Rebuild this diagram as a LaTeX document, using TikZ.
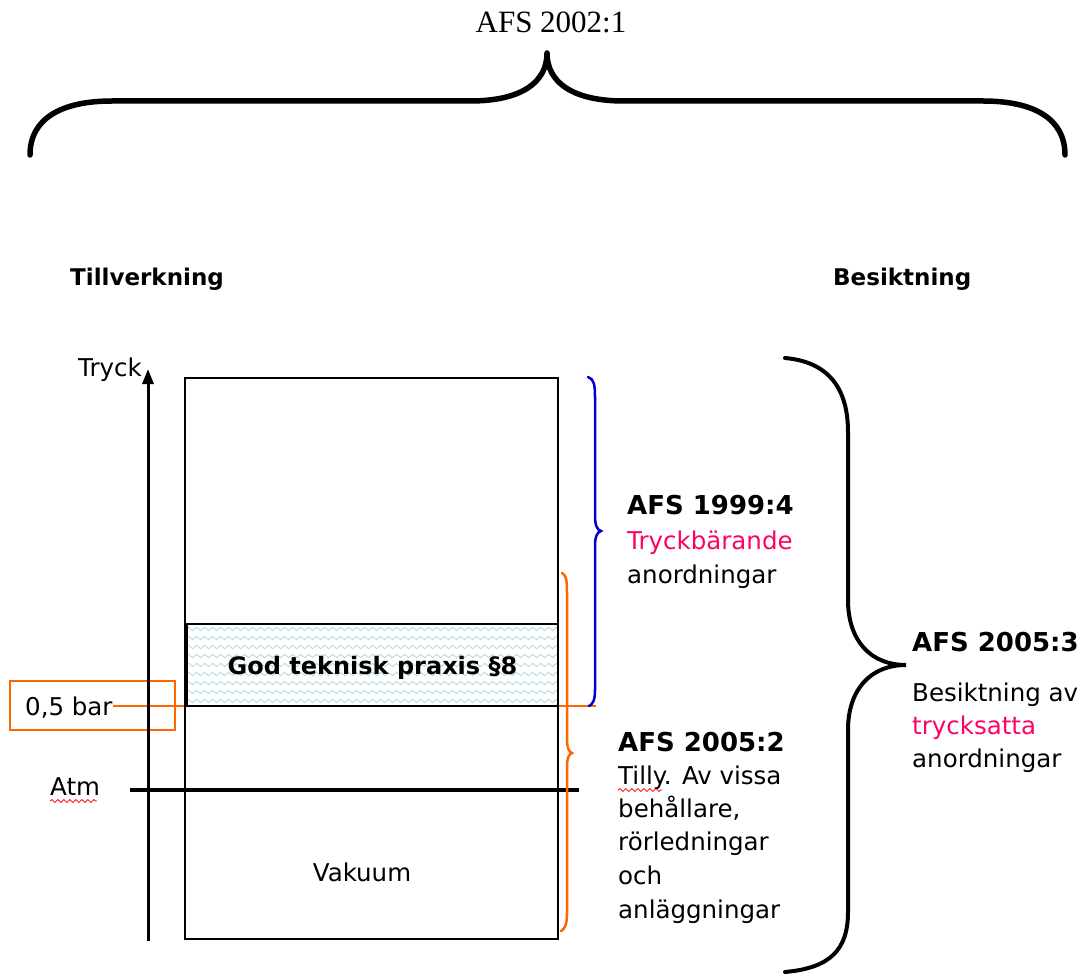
\documentclass[tikz,border=0pt]{standalone}
\usepackage{fontspec}
\setmainfont{DejaVu Sans}
\newfontfamily\serifont{Liberation Serif}
\usetikzlibrary{arrows.meta,decorations.pathmorphing}
\definecolor{orng}{RGB}{255,102,0}
\definecolor{blu}{RGB}{0,0,204}
\definecolor{pnk}{RGB}{255,0,102}
\definecolor{hatch}{RGB}{160,215,215}
\tikzset{
  reg/.style={anchor=base west,inner sep=0pt,font=\fontsize{24.5}{28}\selectfont},
  hdr/.style={anchor=base west,inner sep=0pt,font=\fontsize{26}{28}\selectfont\bfseries},
  ttl/.style={anchor=base west,inner sep=0pt,font=\fontsize{23}{26}\selectfont\bfseries},
  brace/.style={line width=5.5pt,line cap=round,line join=round},
  wavy/.style={red,line width=0.8pt,decorate,decoration={snake,amplitude=1.4pt,segment length=6pt}},
  hatchline/.style={hatch,line width=0.7pt,decorate,decoration={snake,amplitude=1.6pt,segment length=8pt}}
}
\begin{document}
\begin{tikzpicture}[x=1pt,y=-1pt]
\useasboundingbox[fill=white] (0,0) rectangle (1082,976);
% top title and brace
\node[anchor=base,inner sep=0pt,font=\fontsize{31}{36}\selectfont\serifont] (afs20021) at (551,33) {AFS 2002:1};
\draw[brace] (30,155) .. controls (30,118) and (62,101) .. (112,101) -- (470,101)
  .. controls (522,101) and (547,82) .. (547,53)
  .. controls (547,82) and (572,101) .. (624,101) -- (983,101)
  .. controls (1033,101) and (1065,118) .. (1065,155);
% headings
\node[ttl] (till) at (70,286) {Tillverkning};
\node[ttl] (besi) at (833,286) {Besiktning};
% orange connector from 0,5 bar
\node[draw=orng,line width=1.5pt,minimum width=165pt,minimum height=49pt,inner sep=0pt] (box05) at (92.5,705.5) {};
\node[reg] (t05) at (25,715) {0,5 bar};
\coordinate (bluebot) at (596,706);
\draw[orng,line width=1.5pt] (t05.east|-bluebot) -- (bluebot);
% hatched band
\begin{scope}
\path[clip] (187,624) rectangle (558,706);
\foreach \yy in {629,638,...,705} {\draw[hatchline] (186,\yy) -- (560,\yy);}
\end{scope}
\node[draw,line width=2pt,minimum width=371pt,minimum height=82pt,inner sep=0pt] (band) at (372.5,665) {};
\node[anchor=base,inner sep=0pt,font=\fontsize{24}{28}\selectfont\bfseries] (god) at (band.center|-0,674) {God teknisk praxis §8};
% main column
\node[draw,line width=1.5pt,minimum width=373pt,minimum height=561pt,inner sep=0pt] (col) at (371.5,658.5) {};
\node[anchor=base,inner sep=0pt,font=\fontsize{24.5}{28}\selectfont] (vak) at (362,881) {Vakuum};
% axis
\coordinate (axbot) at (148,941);
\coordinate (axtop) at (148,369);
\draw[line width=3pt,-{Triangle[length=15pt,width=11pt]}] (axbot) -- (axtop);
\node[reg] (tryck) at (78,377) {Tryck};
% atm line
\coordinate (atmL) at (130,790);
\coordinate (atmR) at (579,790);
\draw[line width=4.5pt] (atmL) -- (atmR);
\node[reg] (atm) at (50,795) {Atm};
\draw[wavy] (50,801) -- (97,801);
% blue brace
\draw[blu,line width=2.5pt,line cap=round] (588,377) .. controls (594,379) and (595,385) .. (595,397) -- (595,516)
  .. controls (595,525) and (597,530) .. (601,531)
  .. controls (597,532) and (595,537) .. (595,546) -- (595,690)
  .. controls (595,700) and (593,704) .. (589,706);
% orange brace
\draw[orng,line width=2.5pt,line cap=round] (562,573) .. controls (566,575) and (567,580) .. (567,592) -- (567,740)
  .. controls (567,748) and (569,752) .. (572,753)
  .. controls (569,754) and (567,758) .. (567,766) -- (567,913)
  .. controls (567,924) and (565,929) .. (561,931);
% right brace
\draw[line width=4pt,line cap=round] (785,358) .. controls (830,362) and (848,390) .. (848,432) -- (848,600)
  .. controls (848,640) and (870,665) .. (906,665)
  .. controls (870,665) and (848,690) .. (848,730) -- (848,912)
  .. controls (848,950) and (830,968) .. (785,972);
% AFS 1999:4
\node[hdr] (afs9994) at (627,514) {AFS 1999:4};
\node[reg,text=pnk] (tryckb) at (627,549) {Tryckbärande};
\node[reg] (anord1) at (627,583) {anordningar};
% AFS 2005:2
\node[hdr] (afs20052) at (618,751) {AFS 2005:2};
\node[reg] (l1) at (618,784) {Tilly. Av vissa};
\draw[wavy] (618,790) -- (662,790);
\node[reg] (l2) at (618,817) {behållare,};
\node[reg] (l3) at (618,850) {rörledningar};
\node[reg] (l4) at (618,884) {och};
\node[reg] (l5) at (618,918) {anläggningar};
% AFS 2005:3
\node[hdr] (afs20053) at (912,651) {AFS 2005:3};
\node[reg] (m1) at (912,701) {Besiktning av};
\node[reg,text=pnk] (m2) at (912,734) {trycksatta};
\node[reg] (m3) at (912,767) {anordningar};
\end{tikzpicture}
\end{document}
